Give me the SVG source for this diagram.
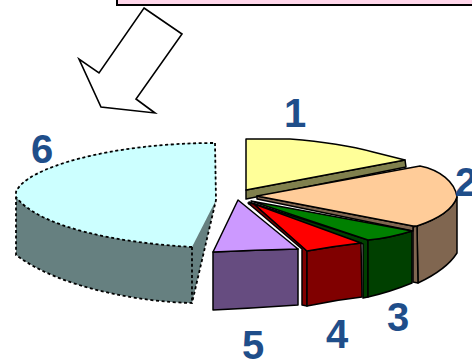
<svg xmlns="http://www.w3.org/2000/svg" width="472" height="361" viewBox="0 0 472 361">
<style>
.o{stroke:#000;stroke-width:1.5;stroke-linejoin:round}
.d{fill:none;stroke:#000;stroke-width:1.8;stroke-dasharray:3 2.6}
.lbl{font-family:"Liberation Sans",Arial,sans-serif;font-weight:bold;font-size:40px;fill:#1F4E8A;text-anchor:middle}
</style>
<rect width="472" height="361" fill="#fff"/>
<g id="titlebox">
<rect x="117" y="-10" width="370" height="15" fill="#FFD6EA" stroke="#000" stroke-width="2"/>
</g>
<g id="connectors">
<polygon points="144,8 182,34 136,99 155,113 101,107 79,59 99,73" fill="#fff" stroke="#000" stroke-width="1.6" stroke-linejoin="miter"/>
</g>
<g id="slice6">
<path d="M215,143 L216,200 L192,303 C140,302 60,288 16,255 L16,192 C25,168 110,143 215,143 Z" fill="#668080"/>
<path d="M215,143 L216,200 L192,247 C120,243 40,228 16,197 L16,192 C25,168 110,143 215,143 Z" fill="#CCFFFF"/>
<path class="d" d="M215,143 L216,200 L192,303 C140,302 60,288 16,255 L16,192 C25,168 110,143 215,143 Z"/>
<path class="d" d="M192,247 C120,243 40,228 16,197 M192,247 L192,303"/>
</g>
<g id="slice1">
<path class="o" d="M246,190 L405,160 L406,167 L246,199 Z" fill="#80804D"/>
<path class="o" d="M246,139 L290,139 Q340,143 373,152 L405,160 L246,190 Z" fill="#FFFF99"/>
</g>
<g id="slice2">
<path class="o" d="M417,226 C432,221 452,212 457,197 L457,253 C450,264 435,275 418,283 Z" fill="#806650"/>
<path class="o" d="M413,227 L417,226 L418,283 L413,282 Z" fill="#806650"/>
<path class="o" d="M257,196 L413,226 L413,231 L257,199 Z" fill="#806650"/>
<path class="o" d="M257,196 L420,166 C440,170 455,182 457,197 C452,212 432,221 417,226 L413,226 Z" fill="#FFCC99"/>
</g>
<g id="slice3">
<path class="o" d="M249,202 L368,240 L368,297 L363,298 L363,244 L249,204 Z" fill="#004000"/>
<path class="o" d="M368,240 Q390,238 412,231 L412,283 Q390,292 368,297 Z" fill="#004000"/>
<path class="o" d="M251,201 L412,231 Q390,238 368,240 Z" fill="#008000"/>
</g>
<g id="slice4">
<path class="o" d="M248,203 L254,204 L307,251 L307,306 L302,305 L302,249 Z" fill="#800000"/>
<path class="o" d="M307,251 Q335,246 361,243 L362,297 Q335,300 307,306 Z" fill="#800000"/>
<path class="o" d="M254,204 L361,243 Q335,246 307,251 Z" fill="#FF0000"/>
</g>
<g id="slice5">
<path class="o" d="M213,252 Q255,250 298,249 L298,305 Q255,308 213,310 Z" fill="#664C80"/>
<path class="o" d="M238,200 L298,249 Q255,250 213,252 Z" fill="#CC99FF"/>
</g>
<g id="labels">
<text class="lbl" x="295" y="127">1</text>
<text class="lbl" x="466" y="196">2</text>
<text class="lbl" x="398" y="331">3</text>
<text class="lbl" x="337" y="348">4</text>
<text class="lbl" x="253" y="359">5</text>
<text class="lbl" x="42" y="163">6</text>
</g>
</svg>
